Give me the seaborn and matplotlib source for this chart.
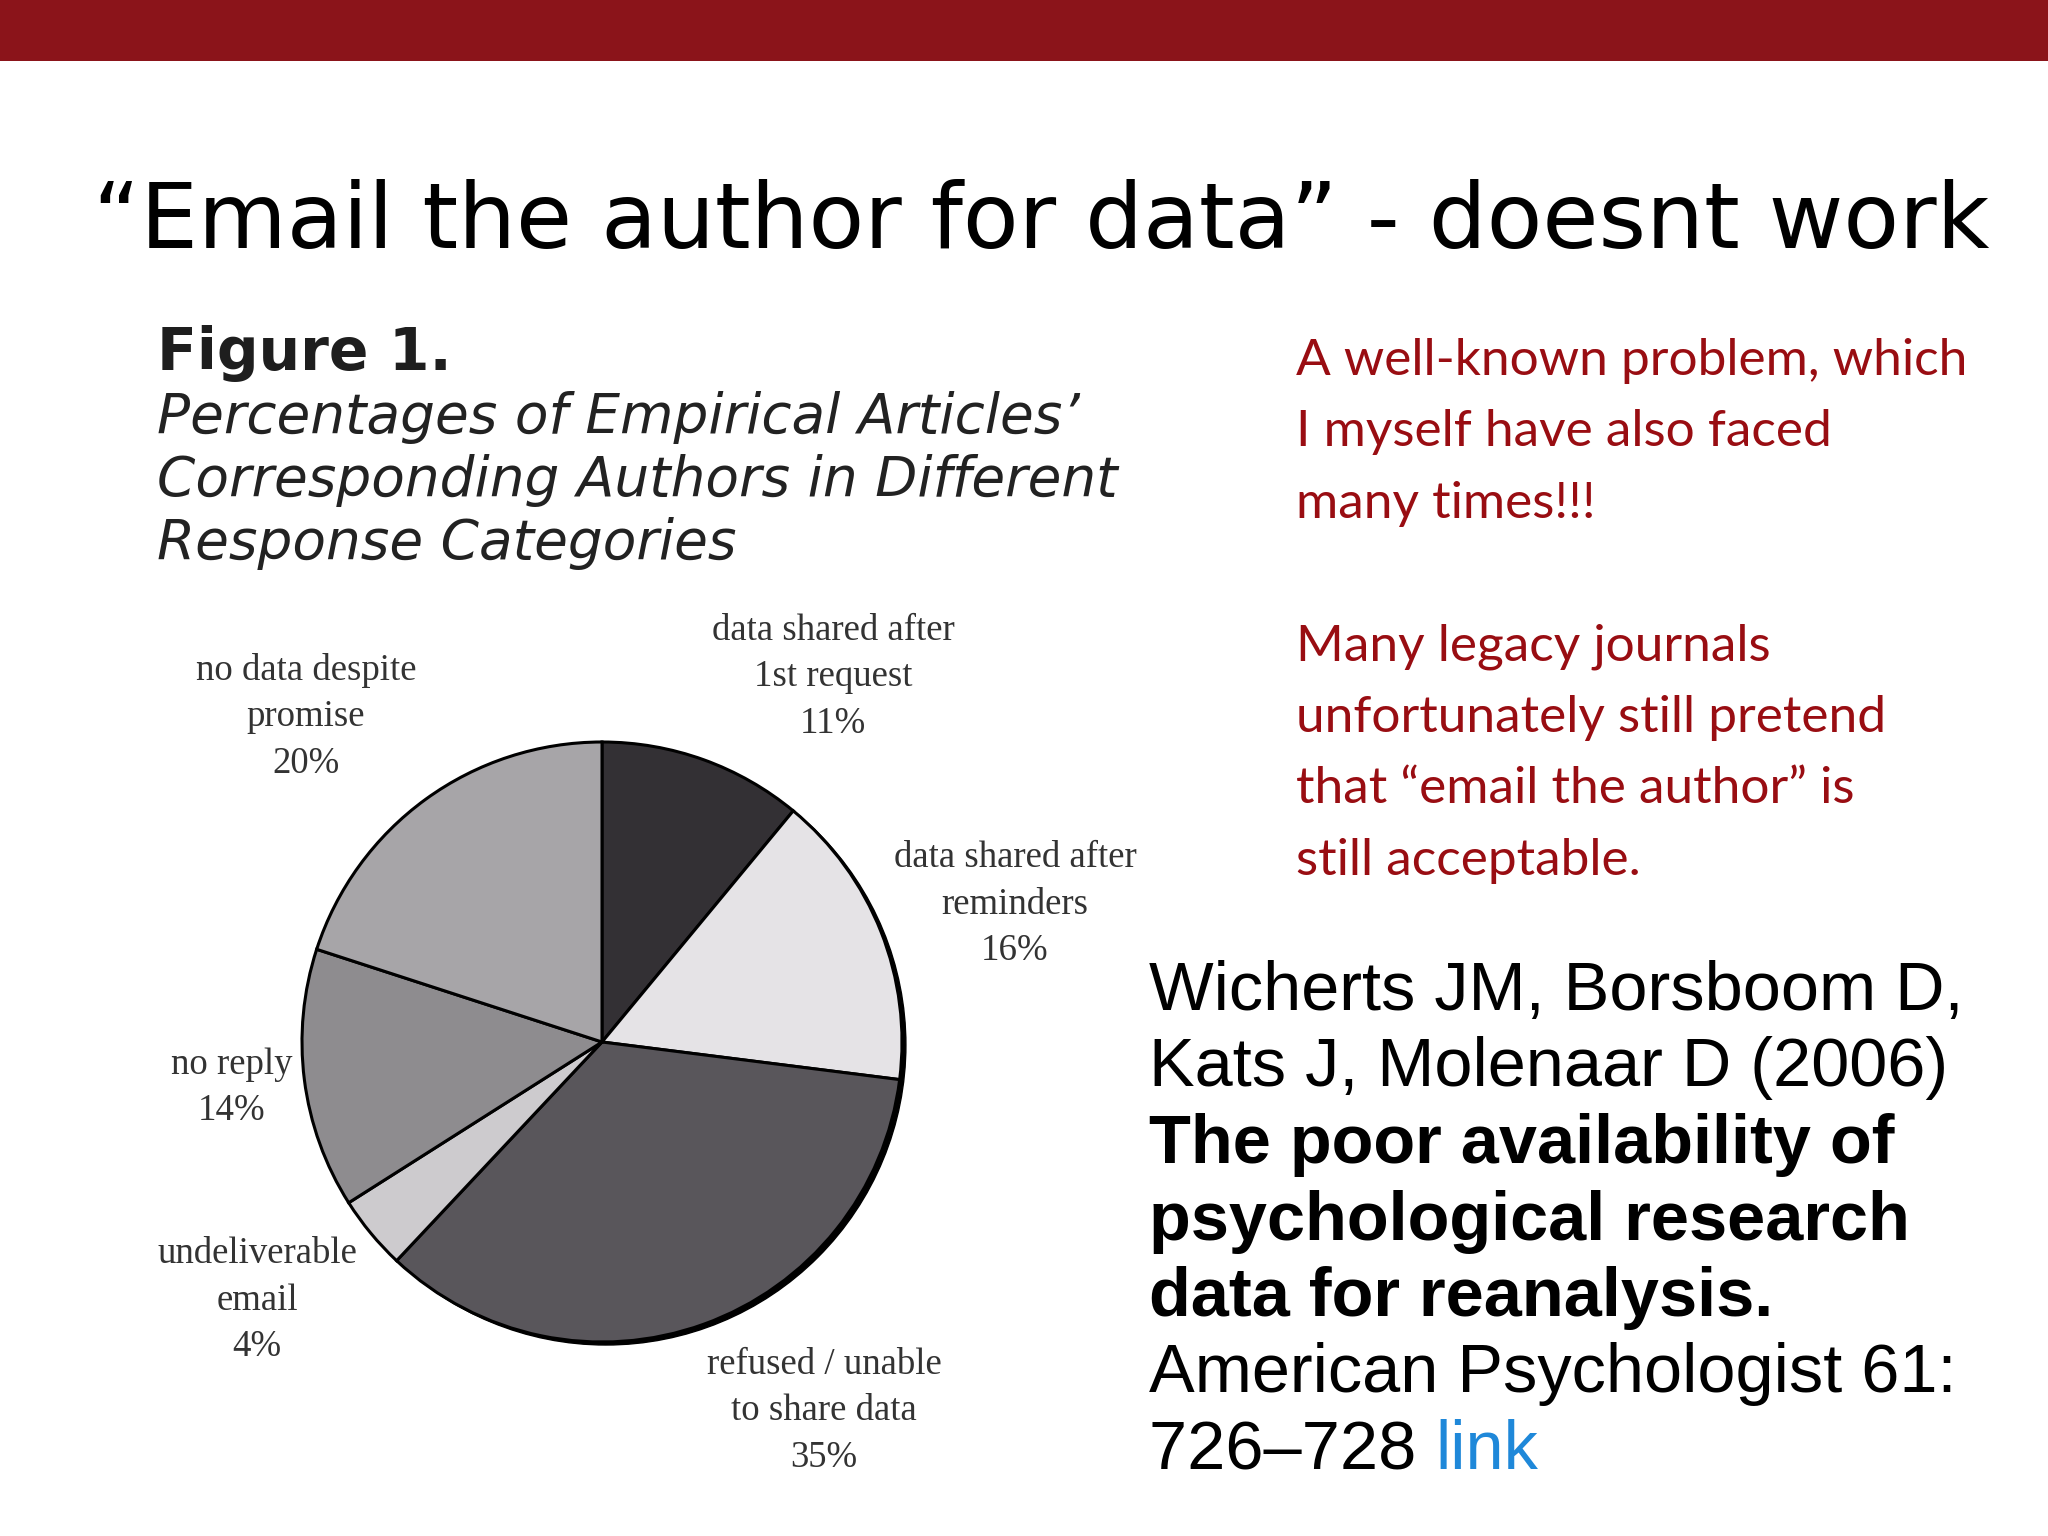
import numpy as np
import matplotlib
matplotlib.use("Agg")
import matplotlib.pyplot as plt
import matplotlib.patches as mpatches
import matplotlib.transforms as mtrans
import seaborn as sns

# pie data, clockwise from 12 o'clock
categories = ['data shared after\n1st request', 'data shared after\nreminders',
              'refused / unable\nto share data', 'undeliverable\nemail',
              'no reply', 'no data despite\npromise']
percent = [11, 16, 35, 4, 14, 20]
slice_grays = ['#333034', '#e5e3e6', '#59565b', '#cdcbce', '#8e8c8f', '#a7a5a8']

slide_title = '\u201cEmail the author for data\u201d - doesnt work'
fig_heading = 'Figure 1.'
fig_caption = ['Percentages of Empirical Articles\u2019',
               'Corresponding Authors in Different',
               'Response Categories']
comment_lines = ['A well-known problem, which', 'I myself have also faced', 'many times!!!', '',
                 'Many legacy journals', 'unfortunately still pretend',
                 'that \u201cemail the author\u201d is', 'still acceptable.']
citation_lines = [('Wicherts JM, Borsboom D,', 'normal'), ('Kats J, Molenaar D (2006)', 'normal'),
                  ('The poor availability of', 'bold'), ('psychological research', 'bold'),
                  ('data for reanalysis.', 'bold'), ('American Psychologist 61:', 'normal'),
                  ('726\u2013728 ', 'normal')]

sns.set_theme(style='white')
plt.rcParams['font.family'] = ['DejaVu Sans']

W, H = 2048, 1536
fig = plt.figure(figsize=(W / 100, H / 100), dpi=100)
fig.patch.set_facecolor('white')

# full-slide axes in pixel units
bg = fig.add_axes([0, 0, 1, 1])
bg.set_xlim(0, W)
bg.set_ylim(H, 0)
bg.axis('off')
bg.add_patch(mpatches.Rectangle((0, 0), W, 61, color='#8b141a', lw=0))

bg.text(1041, 248, slide_title, ha='center', va='baseline', fontsize=65.7,
        family='DejaVu Sans', color='black')

bg.text(157, 370, fig_heading, ha='left', va='baseline', fontsize=42,
        family='DejaVu Sans', fontweight='bold', color='#1e1e1e')
for i, line in enumerate(fig_caption):
    bg.text(157, 433 + i * 63, line, ha='left', va='baseline', fontsize=39.5,
            family='DejaVu Sans', style='italic', color='#222222')

# pie
cx, cy, r = 602, 1042, 300
pie_ax = fig.add_axes([(cx - 1.1 * r) / W, (H - cy - 1.1 * r) / H, 2.2 * r / W, 2.2 * r / H])
pie_ax.add_patch(mpatches.Circle((0.013, -0.010), 1.0, color='black', zorder=0))
pie_ax.pie(percent, colors=slice_grays, startangle=90, counterclock=False, radius=1.0,
           wedgeprops=dict(edgecolor='black', linewidth=2.2))
pie_ax.set_xlim(-1.1, 1.1)
pie_ax.set_ylim(-1.1, 1.1)
pie_ax.set_aspect('equal')
pie_ax.axis('off')

label_spots = [(833, 640), (1015, 867), (824, 1374), (257, 1263), (232, 1074), (306, 680)]
for cat, val, (lx, ly) in zip(categories, percent, label_spots):
    lines = cat.split('\n') + [f'{val}%']
    for j, line in enumerate(lines):
        bg.text(lx, ly + j * 46.5, line, ha='center', va='baseline', fontsize=26.5,
                family='Liberation Serif', color='#333333')

for i, line in enumerate(comment_lines):
    if line:
        bg.text(1296, 375 + i * 71.4, line, ha='left', va='baseline', fontsize=37,
                family='Lato', color='#990d12')

for i, (line, wt) in enumerate(citation_lines):
    t = bg.text(1149, 1010 + i * 76.5, line, ha='left', va='baseline', fontsize=49.3,
                family='Liberation Sans', fontweight=wt, color='black')
# the blue "link" after the page numbers
fig.canvas.draw()
bb = t.get_window_extent()
bg.text(bb.x1, 1010 + 6 * 76.5, 'link', ha='left', va='baseline', fontsize=49.3,
        family='Liberation Sans', color='#1f88d9',
        transform=mtrans.blended_transform_factory(mtrans.IdentityTransform(), bg.transData))

fig.savefig('out.png', dpi=100, facecolor='white')
